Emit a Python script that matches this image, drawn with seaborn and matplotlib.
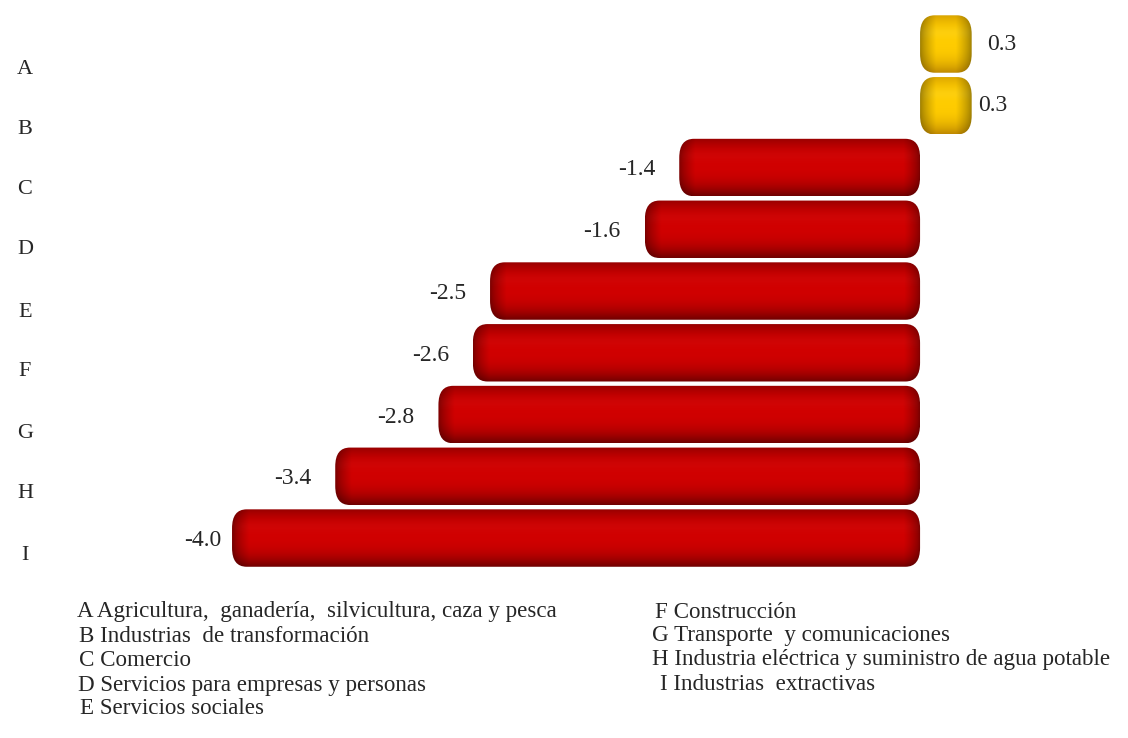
import numpy as np
import pandas as pd
import matplotlib
matplotlib.use("Agg")
import matplotlib.pyplot as plt
import seaborn as sns
from matplotlib.patches import FancyBboxPatch

# Data
letters = ["A", "B", "C", "D", "E", "F", "G", "H", "I"]
values = [0.3, 0.3, -1.4, -1.6, -2.5, -2.6, -2.8, -3.4, -4.0]
value_labels = ["0.3", "0.3", "-1.4", "-1.6", "-2.5", "-2.6", "-2.8", "-3.4", "-4.0"]
legend_left = [
    "A Agricultura,  ganadería,  silvicultura, caza y pesca",
    "B Industrias  de transformación",
    "C Comercio",
    "D Servicios para empresas y personas",
    "E Servicios sociales",
]
legend_right = [
    "F Construcción",
    "G Transporte  y comunicaciones",
    "H Industria eléctrica y suministro de agua potable",
    "I Industrias  extractivas",
]

df = pd.DataFrame({"sector": letters, "valor": values})

sns.set_style("white")
plt.rcParams["font.family"] = ["Liberation Serif", "DejaVu Serif"]

fig = plt.figure(figsize=(11.28, 7.38), dpi=100)
ax = fig.add_axes([0.1447, 0.2291, 0.8387, 0.7531])

sns.barplot(data=df, x="valor", y="sector", orient="h", width=0.93,
            color="#cc0000", ax=ax)

ax.set_xlim(-4.4, 1.1)
ax.set_ylim(8.5, -0.5)


def cylinder(c_mid, c_edge, c_hi):
    t = np.linspace(0, 1, 64)
    prof = np.abs(t - 0.45) / 0.55
    prof = np.clip(prof, 0, 1) ** 2.6
    mid = np.array(matplotlib.colors.to_rgb(c_mid))
    edge = np.array(matplotlib.colors.to_rgb(c_edge))
    hi = np.array(matplotlib.colors.to_rgb(c_hi))
    col = mid[None, :] * (1 - prof[:, None]) + edge[None, :] * prof[:, None]
    band = np.exp(-((t - 0.3) / 0.1) ** 2)
    col = col * (1 - 0.2 * band[:, None]) + hi[None, :] * 0.2 * band[:, None]
    return col


for p, v in zip(ax.patches, values):
    x0, y0 = p.get_x(), p.get_y()
    w, h = p.get_width(), p.get_height()
    p.set_alpha(0)
    if v > 0:
        grad = cylinder("#ffcc00", "#c08a00", "#ffe040")
    else:
        grad = cylinder("#d00000", "#700000", "#d81818")
    # darkening near the rounded caps
    xs = np.linspace(0, 1, 300)
    px_w = abs(w) * 172
    cap = np.clip(np.minimum(xs, 1 - xs) * px_w / 16, 0, 1) ** 0.7
    img = grad[:, None, :] * (0.6 + 0.4 * cap[None, :, None])
    left = min(x0, x0 + w)
    box = FancyBboxPatch((left, y0), abs(w), h,
                         boxstyle="round,pad=0,rounding_size=0.085",
                         mutation_aspect=3.6, transform=ax.transData,
                         facecolor="none", edgecolor="none")
    ax.add_patch(box)
    im = ax.imshow(img, extent=[left, left + abs(w), y0 + h, y0],
                   aspect="auto", interpolation="bilinear", zorder=2)
    im.set_clip_path(box)

ax.set_xlim(-4.4, 1.1)
ax.set_ylim(8.5, -0.5)

# value labels
for i, (v, lab) in enumerate(zip(values, value_labels)):
    if v < 0:
        gap = 0.06 if i == len(values) - 1 else 0.14
        ax.text(v - gap, i + 0.04, lab, ha="right", va="center", fontsize=17)
    else:
        dx = 0.09 if i == 0 else 0.04
        ax.text(v + dx, i, lab, ha="left", va="center", fontsize=17)

# category letters (sit a little below each bar in the original)
ax.set_yticks(range(len(letters)))
ax.set_yticklabels([])
ax.tick_params(axis="y", length=0)
letter_y = [70, 130, 190, 250, 312, 372, 433, 494, 556]
for lab, yy in zip(letters, letter_y):
    fig.text(25 / 1128, 1 - yy / 738, lab, ha="center", va="center", fontsize=16)

ax.set_xticks([])
ax.set_xlabel("")
ax.set_ylabel("")
for s in ax.spines.values():
    s.set_visible(False)

# legend of sectors
ys_left = [612, 636, 660, 685, 709]
xs_left = [77, 79, 79, 78, 80]
for txt, xx, yy in zip(legend_left, xs_left, ys_left):
    fig.text(xx / 1128, 1 - yy / 738, txt, ha="left", va="center", fontsize=16.6)
ys_right = [612, 636, 660, 685]
xs_right = [655, 652, 652, 660]
for txt, xx, yy in zip(legend_right, xs_right, ys_right):
    fig.text(xx / 1128, 1 - yy / 738, txt, ha="left", va="center", fontsize=16.6)

fig.savefig("out.png", dpi=100)
